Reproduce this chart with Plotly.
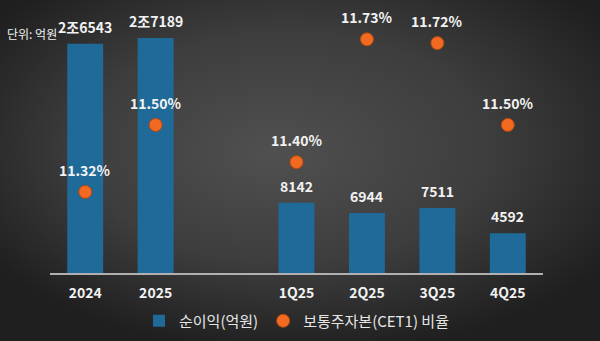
import base64
import plotly.graph_objects as go

# Net income (100M KRW) and CET1 ratio (%) by period
categories = ["2024", "2025", " ", "1Q25", "2Q25", "3Q25", "4Q25"]
net_income = [26543, 27189, None, 8142, 6944, 7511, 4592]
income_labels = ["2조6543", "2조7189", "", "8142", "6944", "7511", "4592"]
cet1_ratio = [11.32, 11.50, None, 11.40, 11.73, 11.72, 11.50]

W, H = 600, 341
L, R, T, B = 50, 57, 20, 68
FONT = "Noto Sans CJK KR"
TEXT = "#f2f2f2"

# radial-gradient backdrop as an inline SVG
svg = f"""<svg xmlns='http://www.w3.org/2000/svg' width='{W}' height='{H}' preserveAspectRatio='none'>
<defs><radialGradient id='g' cx='0.5' cy='0.42' r='0.62' fx='0.45' fy='0.45'>
<stop offset='0' stop-color='#505050'/><stop offset='0.55' stop-color='#3d3d3d'/>
<stop offset='1' stop-color='#1f1f1f'/></radialGradient></defs>
<rect width='{W}' height='{H}' fill='url(#g)'/></svg>"""
bg = "data:image/svg+xml;base64," + base64.b64encode(svg.encode()).decode()

pw, ph = W - L - R, H - T - B

fig = go.Figure()
fig.add_trace(go.Bar(
    x=categories, y=net_income, name="순이익(억원)",
    marker=dict(color="#206a9a", line=dict(width=0)),
    width=0.51, yaxis="y", hoverinfo="skip",
))
fig.add_trace(go.Scatter(
    x=categories, y=cet1_ratio, name="보통주자본(CET1) 비율",
    mode="markers", yaxis="y2",
    marker=dict(size=13, color="#f26a22", line=dict(color="#b5470e", width=1)),
    hoverinfo="skip",
))

annotations = []
for i, (v, t) in enumerate(zip(net_income, income_labels)):
    if v is None:
        continue
    annotations.append(dict(
        x=i, y=v, xref="x", yref="y", text=t, showarrow=False,
        yanchor="bottom", yshift=5,
        font=dict(family=FONT, size=14, color=TEXT, weight="bold"),
    ))
for i, v in enumerate(cet1_ratio):
    if v is None:
        continue
    annotations.append(dict(
        x=i, y=v, xref="x", yref="y2", text=f"{v:.2f}%", showarrow=False,
        yanchor="middle", yshift=22,
        font=dict(family=FONT, size=14, color=TEXT, weight="bold"),
    ))
annotations.append(dict(
    x=-45 / pw, y=1 - 13 / ph, xref="paper", yref="paper", xanchor="left",
    yanchor="middle", text="단위: 억원", showarrow=False,
    font=dict(family=FONT, size=12, color=TEXT),
))

fig.update_layout(
    width=W, height=H,
    margin=dict(l=L, r=R, t=T, b=B, autoexpand=False),
    paper_bgcolor="#262626", plot_bgcolor="rgba(0,0,0,0)",
    images=[dict(source=bg, xref="paper", yref="paper",
                 x=-L / pw, y=1 + T / ph, sizex=W / pw, sizey=H / ph,
                 xanchor="left", yanchor="top", sizing="stretch", layer="below")],
    xaxis=dict(
        type="category", categoryorder="array", categoryarray=categories,
        range=[-0.5, len(categories) - 0.5],
        showgrid=False, zeroline=False, showline=True, linecolor="#b0b0b0",
        linewidth=2, ticks="outside", ticklen=6, tickcolor="rgba(0,0,0,0)",
        tickfont=dict(family=FONT, size=14, color=TEXT, weight="bold"),
    ),
    yaxis=dict(range=[0, 29280], visible=False, showgrid=False),
    yaxis2=dict(range=[11.102, 11.782], overlaying="y", visible=False,
                showgrid=False),
    showlegend=True,
    legend=dict(orientation="h", x=0.5, xanchor="center", y=-48 / ph,
                yanchor="middle", font=dict(family=FONT, size=15, color="#e6e6e6"),
                bgcolor="rgba(0,0,0,0)", itemwidth=30),
    annotations=annotations,
    bargap=0.49,
)

fig.write_html("out.html")
